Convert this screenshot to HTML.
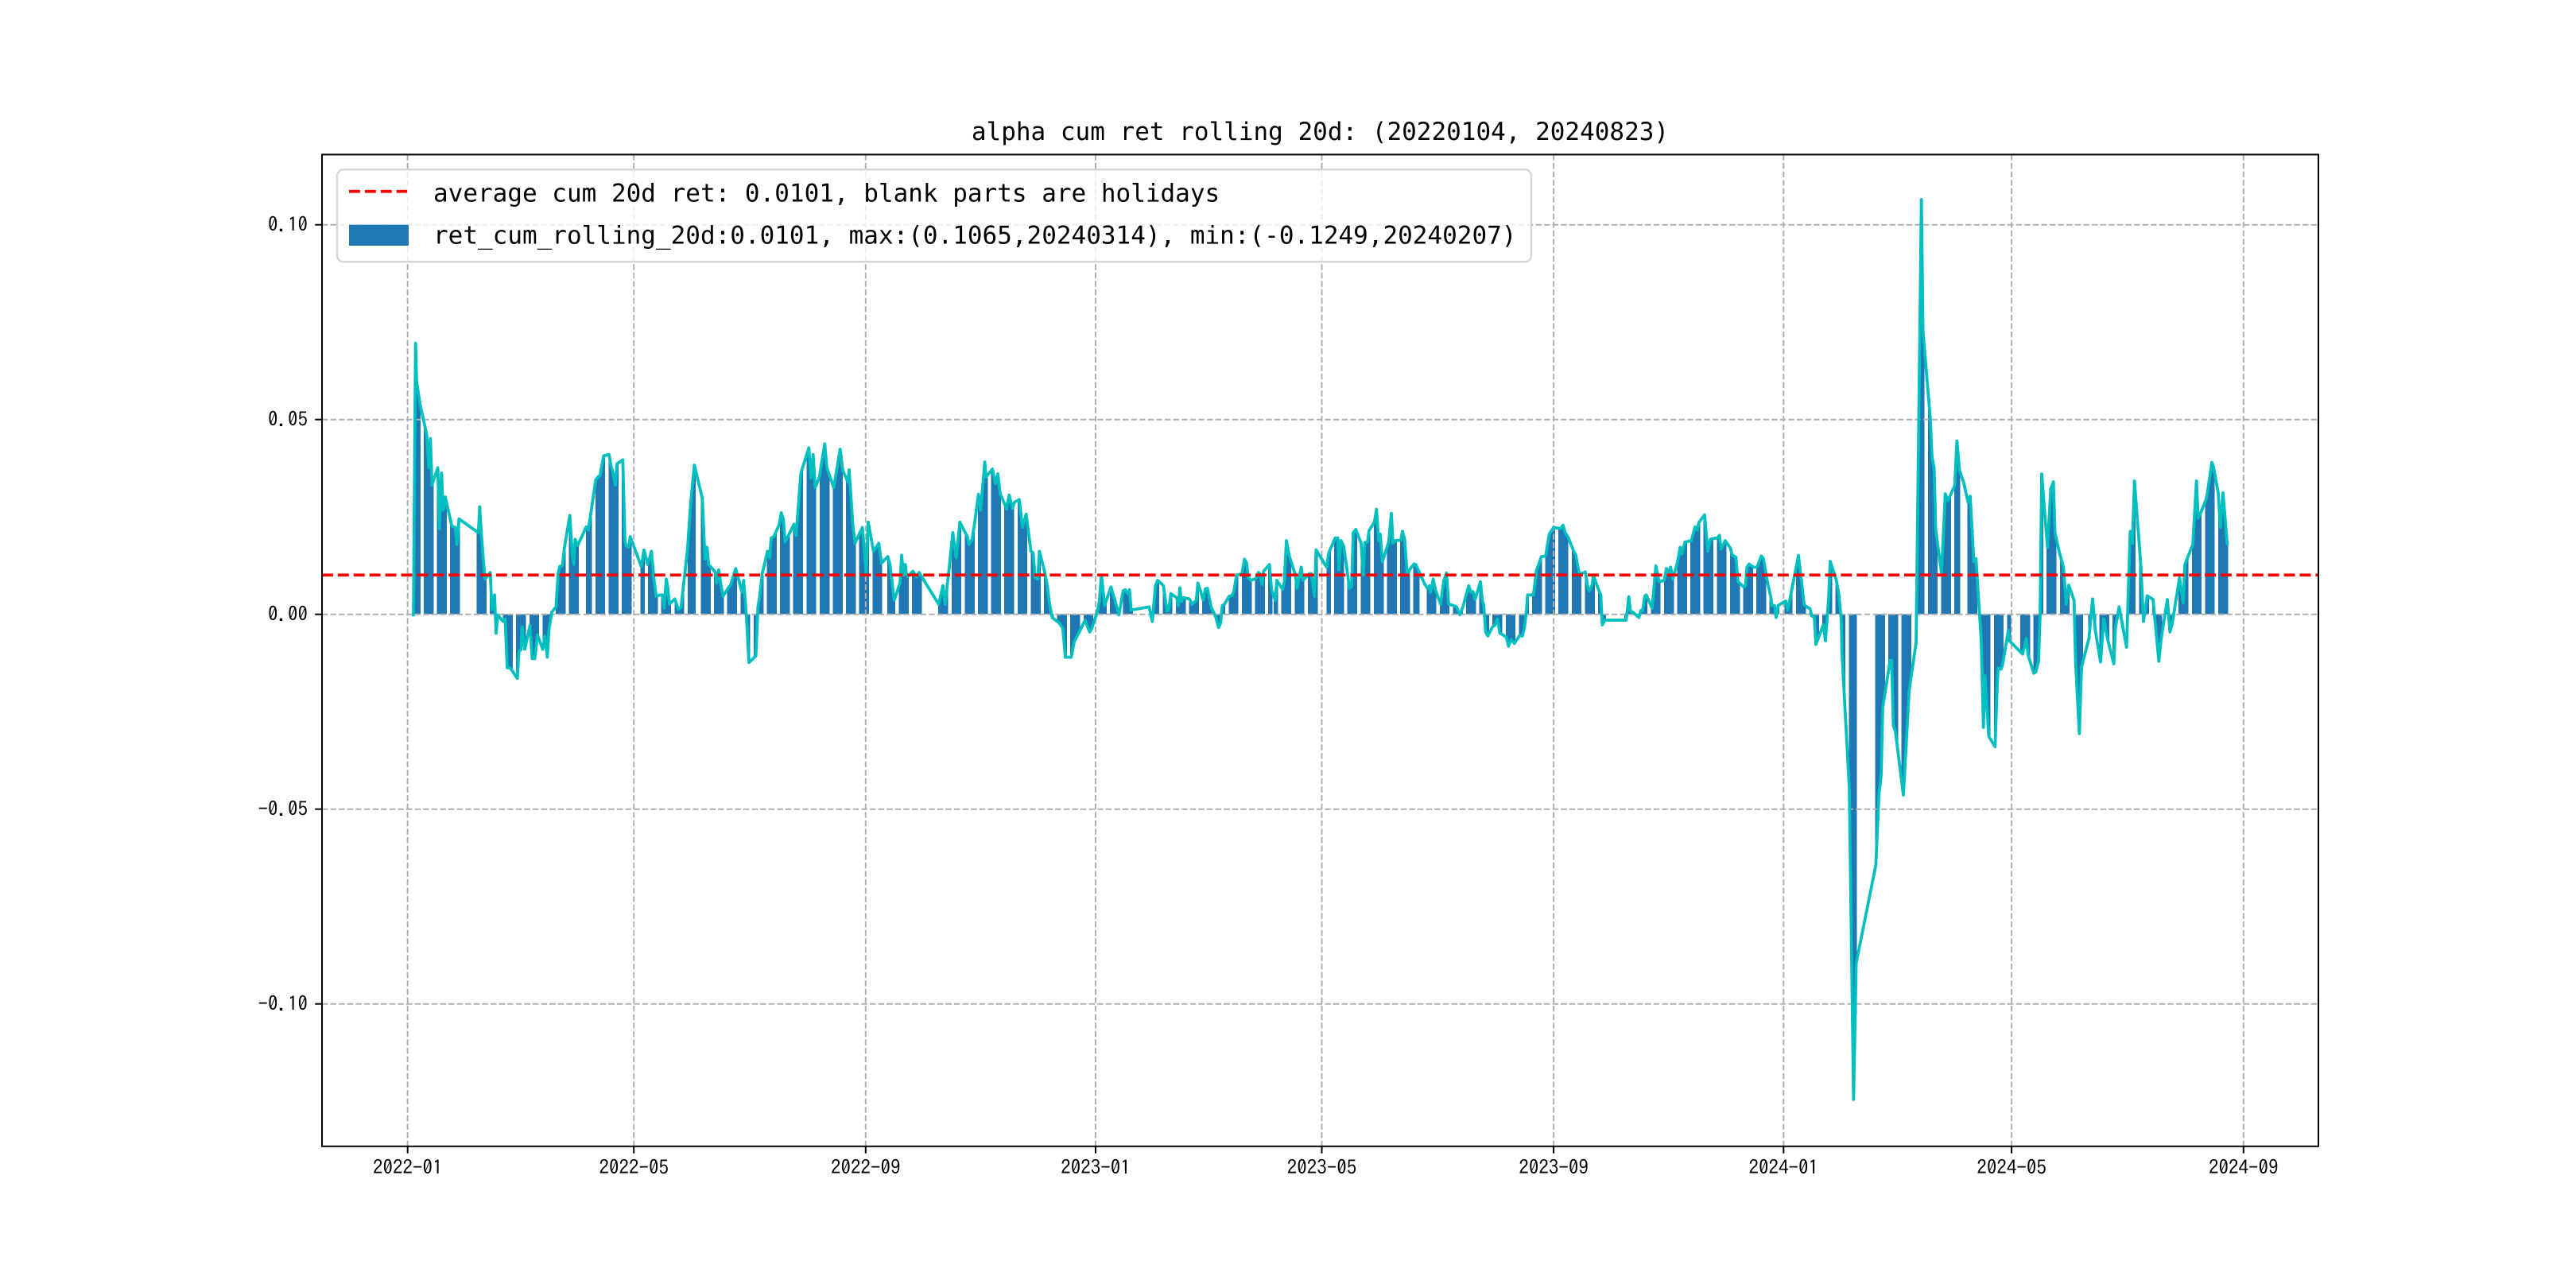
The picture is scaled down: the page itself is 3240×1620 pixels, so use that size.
<!DOCTYPE html>
<html><head><meta charset="utf-8">
<style>
html,body{margin:0;padding:0;background:#fff;}
svg{display:block;}
</style></head>
<body>
<svg id="c" xmlns="http://www.w3.org/2000/svg" width="3240" height="1620" viewBox="0 0 3240 1620">
<rect width="3240" height="1620" fill="#ffffff"/>
<g id="bars" fill="#1f77b4" shape-rendering="crispEdges"></g>
<g id="grid" stroke="#b0b0b0" stroke-width="2" stroke-dasharray="7.4 3.2" fill="none">
<line x1="512.7" y1="194.4" x2="512.7" y2="1441.8"/>
<line x1="797.2" y1="194.4" x2="797.2" y2="1441.8"/>
<line x1="1088.8" y1="194.4" x2="1088.8" y2="1441.8"/>
<line x1="1378" y1="194.4" x2="1378" y2="1441.8"/>
<line x1="1662.5" y1="194.4" x2="1662.5" y2="1441.8"/>
<line x1="1954.1" y1="194.4" x2="1954.1" y2="1441.8"/>
<line x1="2243.3" y1="194.4" x2="2243.3" y2="1441.8"/>
<line x1="2530.1" y1="194.4" x2="2530.1" y2="1441.8"/>
<line x1="2821.8" y1="194.4" x2="2821.8" y2="1441.8"/>
<line x1="405" y1="282.7" x2="2916" y2="282.7"/>
<line x1="405" y1="527.7" x2="2916" y2="527.7"/>
<line x1="405" y1="772.7" x2="2916" y2="772.7"/>
<line x1="405" y1="1017.7" x2="2916" y2="1017.7"/>
<line x1="405" y1="1262.7" x2="2916" y2="1262.7"/>
</g>
<polyline id="ln" fill="none" stroke="#00bfbf" stroke-width="3.75" stroke-linejoin="round" stroke-linecap="square" points=""/>
<line x1="405" y1="723.2" x2="2916" y2="723.2" stroke="#ff0000" stroke-width="3.75" stroke-dasharray="13.9 6"/>
<rect x="405" y="194.4" width="2511" height="1247.4" fill="none" stroke="#000" stroke-width="2"/>
<g stroke="#000" stroke-width="2">
<line x1="396.25" y1="282.7" x2="405" y2="282.7"/>
<line x1="396.25" y1="527.7" x2="405" y2="527.7"/>
<line x1="396.25" y1="772.7" x2="405" y2="772.7"/>
<line x1="396.25" y1="1017.7" x2="405" y2="1017.7"/>
<line x1="396.25" y1="1262.7" x2="405" y2="1262.7"/>
<line x1="512.7" y1="1441.8" x2="512.7" y2="1450.6"/>
<line x1="797.2" y1="1441.8" x2="797.2" y2="1450.6"/>
<line x1="1088.8" y1="1441.8" x2="1088.8" y2="1450.6"/>
<line x1="1378" y1="1441.8" x2="1378" y2="1450.6"/>
<line x1="1662.5" y1="1441.8" x2="1662.5" y2="1450.6"/>
<line x1="1954.1" y1="1441.8" x2="1954.1" y2="1450.6"/>
<line x1="2243.3" y1="1441.8" x2="2243.3" y2="1450.6"/>
<line x1="2530.1" y1="1441.8" x2="2530.1" y2="1450.6"/>
<line x1="2821.8" y1="1441.8" x2="2821.8" y2="1450.6"/>
</g>
<g font-family="IPAGothic, 'DejaVu Sans Mono', monospace" font-size="25" fill="#000">
<text x="387" y="291" text-anchor="end">0.10</text>
<text x="387" y="536" text-anchor="end">0.05</text>
<text x="387" y="781" text-anchor="end">0.00</text>
<text x="387" y="1026" text-anchor="end">-0.05</text>
<text x="387" y="1271" text-anchor="end">-0.10</text>
<text x="512.7" y="1477" text-anchor="middle">2022-01</text>
<text x="797.2" y="1477" text-anchor="middle">2022-05</text>
<text x="1088.8" y="1477" text-anchor="middle">2022-09</text>
<text x="1378" y="1477" text-anchor="middle">2023-01</text>
<text x="1662.5" y="1477" text-anchor="middle">2023-05</text>
<text x="1954.1" y="1477" text-anchor="middle">2023-09</text>
<text x="2243.3" y="1477" text-anchor="middle">2024-01</text>
<text x="2530.1" y="1477" text-anchor="middle">2024-05</text>
<text x="2821.8" y="1477" text-anchor="middle">2024-09</text>
</g>
<text x="1660.5" y="176" text-anchor="middle" font-family="'DejaVu Sans Mono', 'Liberation Mono', monospace" font-size="31" fill="#000">alpha cum ret rolling 20d: (20220104, 20240823)</text>
<rect x="424" y="213.3" width="1502" height="116" rx="8" ry="8" fill="#ffffff" fill-opacity="0.8" stroke="#cccccc" stroke-opacity="0.8" stroke-width="2.5"/>
<line x1="439" y1="240.7" x2="512" y2="240.7" stroke="#ff0000" stroke-width="3.75" stroke-dasharray="13.9 6"/>
<rect x="439" y="282.7" width="75" height="26.3" fill="#1f77b4"/>
<g font-family="'DejaVu Sans Mono', 'Liberation Mono', monospace" font-size="31" fill="#000">
<text x="545" y="253.3">average cum 20d ret: 0.0101, blank parts are holidays</text>
<text x="545" y="306.7">ret_cum_rolling_20d:0.0101, max:(0.1065,20240314), min:(-0.1249,20240207)</text>
</g>
</svg>
<script>
(function(){
var segs=[
[500,380,3,3,[60,1180,68,155,72,300,85,385,110,500,118,625,124,515,130,690,152,625,158,855,166,645,172,785,180,735,205,845,218,850,224,915,232,818,305,870,310,772,318,900,330,1045,350,1020,356,1160,366,1105,372,1250,378,1180,398,1205,406,1195,414,1380,424,1380,432,1390,452,1420,458,1320,466,1310,470,1225,480,1310,500,1220,508,1345,518,1345,528,1255,548,1310,556,1260,565,1340,572,1230,582,1170,598,1150,606,1025,612,997,622,995,630,925,650,805,660,960,665,990,670,895,680,918,712,848,720,860,748,670,758,658,764,655,778,580,798,575,806,620,812,640,822,690,828,610,850,595,858,900,862,920,872,925,878,885,920,998,930,935,944,990,958,940,968,1050,976,1110,990,1105,1000,1105,1006,1155,1014,1045,1020,1080,1026,1140,1046,1120,1060,1160,1070,1150,1094,935,1106,760,1120,615,1150,740,1160,970,1168,925,1174,990,1200,1020,1204,1060,1212,1010,1220,1065,1228,1110,1250,1075,1256,1070,1276,1005,1300,1095,1306,1050,1316,1180,1326,1360,1352,1335,1360,1150,1366,1115,1376,1025,1396,940,1404,965,1410,890,1420,885]],
[980,380,3,3,[0,840,8,795,16,820,22,905,30,890,56,838,64,880,82,645,112,550,120,665,128,575,136,700,152,660,158,620,172,535,180,625,206,700,230,555,240,635,260,680,264,633,278,840,286,910,314,850,328,1020,336,830,356,940,376,910,386,985,410,960,418,990,434,1125,456,1060,462,955,470,1030,476,990,480,1025,486,1035,505,1015,518,1038,528,1020,602,1140,618,1070,626,1140,642,1000,655,870,668,965,682,830,710,885,716,915,728,895,738,830,752,725,760,785,776,603,780,660,805,630,816,685,825,648,834,722,852,765,858,780,868,728,880,778,888,755,906,745,918,850,932,800,950,940,958,945,966,1040,976,1045,982,940,1000,1010,1012,1070,1018,1125,1030,1190,1056,1210,1070,1230,1080,1340,1102,1340,1114,1280,1130,1250,1154,1200,1172,1245,1180,1230,1200,1170,1208,1130,1216,1030,1228,1145,1252,1075,1264,1115,1282,1180,1298,1090,1306,1085,1316,1100,1322,1085,1328,1162,1396,1150,1408,1205,1420,1070,1428,1050]],
[1460,380,3,3,[0,1060,10,1070,18,1130,24,1165,30,1160,38,1100,60,1115,66,1145,72,1078,78,1130,86,1115,108,1120,118,1140,134,1125,140,1060,150,1090,160,1125,168,1082,176,1080,190,1150,208,1190,218,1228,226,1210,232,1145,240,1140,258,1110,268,1108,276,1090,286,1030,306,1025,316,970,324,985,330,1040,340,1050,360,1042,368,1020,374,1025,382,1065,388,1015,410,990,418,1085,432,1125,438,1050,460,1085,466,1055,474,900,484,955,508,1030,514,1080,530,1000,536,1050,560,1025,568,1025,580,1110,586,935,626,1000,634,945,658,890,668,890,672,1010,680,900,690,920,700,990,712,1080,720,1075,726,870,736,858,756,910,764,1030,770,907,780,905,786,862,806,830,814,782,822,900,828,875,836,980,860,905,870,797,876,910,886,900,906,898,912,865,920,895,930,1030,942,1005,956,988,962,990,978,1025,994,1060,1006,1080,1014,1070,1018,1095,1028,1045,1036,1085,1056,1140,1068,1050,1078,1022,1086,1140,1106,1145,1116,1150,1128,1180,1140,1150,1162,1070,1170,1095,1178,1092,1186,1122,1206,1055,1214,1130,1218,1140,1226,1245,1234,1260,1252,1225,1260,1220,1270,1195,1280,1250,1290,1255,1304,1265,1312,1298,1322,1272,1334,1288,1354,1258,1364,1260,1372,1230,1380,1160,1384,1105,1396,1105,1406,1105,1418,1010,1428,985,1436,960]],
[1940,380,3,3,[0,960,12,958,26,875,42,850,68,855,78,842,86,870,96,885,116,935,126,955,138,1020,146,1025,162,1018,172,1080,178,1090,188,1065,192,1030,210,1080,220,1105,226,1218,236,1200,316,1200,326,1112,332,1165,344,1172,364,1190,372,1163,378,1165,386,1110,392,1105,414,1155,428,995,440,1055,460,1050,468,1005,476,1020,484,1000,492,1045,510,980,520,925,526,950,538,905,562,900,576,848,584,860,590,832,612,802,624,940,634,895,644,892,660,890,668,880,674,932,690,900,710,930,716,955,730,962,738,1055,760,1075,766,1070,772,1000,780,988,796,1000,810,1000,826,958,834,968,846,1040,862,1115,866,1145,876,1145,882,1190,890,1145,900,1138]],
[2220,230,3,1.3402,[78,705,86,720,126,628,148,712,170,718,176,730,186,732,192,778,220,745,228,772,240,700,246,638,268,668,278,692,288,740,290,790,318,1020,334,1545,344,1315,418,1150,430,1030,438,1000,444,885,472,805,478,805,484,915,492,925,522,1032,544,855,570,775,590,28,596,250,624,400,630,462,638,480,644,585,666,658,680,524,690,536,716,510,724,435,734,485]],
[2470,520,3,3,[0,262,16,335,24,312,38,560,46,548,66,860,74,1185,80,990,94,1218,118,1258,126,1030,130,960,140,965,146,950,168,818,172,858,222,908,236,848,242,910,264,980,272,975,282,935,288,760,294,228,304,360,316,505,328,285,338,258,344,450,362,530,376,580,382,660,386,720,396,648,416,705,422,945,436,1208,444,958,472,850,486,700,496,818,516,938,528,775,542,850,566,945,572,810,586,730,614,882,628,445,636,490,644,255,668,575,678,785,692,688,714,702,736,935,744,855,768,702,778,825,786,795,814,620,828,715,834,570,864,495,878,255,884,395,892,380,914,325,920,295,936,185,942,200,960,300,968,430,978,300,994,492]]
];
var P=[];
for(var s=0;s<segs.length;s++){var g=segs[s];var a=g[4];for(var i=0;i<a.length;i+=2){P.push([g[0]+a[i]/g[2],g[1]+a[i+1]/g[3]]);}}
var pts=P.map(function(p){return p[0].toFixed(2)+','+p[1].toFixed(2);}).join(' ');
document.getElementById('ln').setAttribute('points',pts);
function interp(x){
  if(x<=P[0][0])return P[0][1];
  for(var i=1;i<P.length;i++){if(P[i][0]>=x){var a=P[i-1],b=P[i];var t=(b[0]-a[0])?(x-a[0])/(b[0]-a[0]):0;return a[1]+t*(b[1]-a[1]);}}
  return P[P.length-1][1];
}
var hol=["2022-01-03","2022-01-31","2022-02-01","2022-02-02","2022-02-03","2022-02-04","2022-04-04","2022-04-05","2022-05-02","2022-05-03","2022-05-04","2022-06-03","2022-09-12","2022-10-03","2022-10-04","2022-10-05","2022-10-06","2022-10-07",
"2023-01-02","2023-01-23","2023-01-24","2023-01-25","2023-01-26","2023-01-27","2023-04-05","2023-05-01","2023-05-02","2023-05-03","2023-06-22","2023-06-23","2023-09-29","2023-10-02","2023-10-03","2023-10-04","2023-10-05","2023-10-06",
"2024-01-01","2024-02-09","2024-02-12","2024-02-13","2024-02-14","2024-02-15","2024-02-16","2024-04-04","2024-04-05","2024-05-01","2024-05-02","2024-05-03","2024-06-10"];
var H={};for(var k=0;k<hol.length;k++)H[hol[k]]=1;
var base=Date.UTC(2022,0,1),end=Date.UTC(2024,7,23),y0=772.7,out=[];
for(var t=Date.UTC(2022,0,4);t<=end;t+=86400000){
  var d=new Date(t);var wd=d.getUTCDay();if(wd===0||wd===6)continue;
  var ss=d.toISOString().slice(0,10);if(H[ss])continue;
  var day=Math.round((t-base)/86400000);
  var X=512.7+day*2.3707;var Y=interp(X);
  var top=Math.min(Y,y0),h=Math.abs(Y-y0);
  out.push('<rect x="'+(X-1.0).toFixed(2)+'" y="'+top.toFixed(2)+'" width="2.9" height="'+h.toFixed(2)+'"/>');
}
document.getElementById('bars').innerHTML=out.join('');
})();
</script>
</body></html>
